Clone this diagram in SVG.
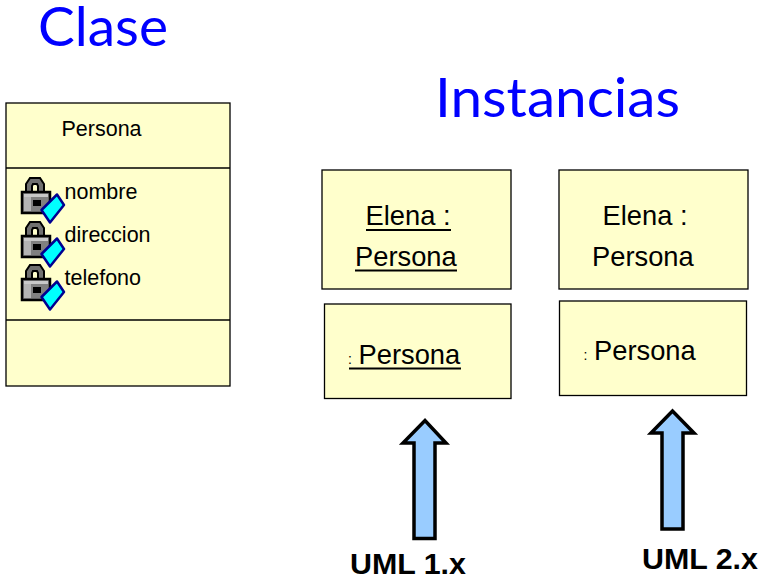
<svg xmlns="http://www.w3.org/2000/svg" width="764" height="579" viewBox="0 0 764 579">
<style>
text{font-family:"Liberation Sans",Arial,sans-serif;fill:#000}
.title{font-family:Lato,"Open Sans",sans-serif;font-size:55px;fill:#0000ff}
.box{fill:#ffffcc;stroke:#000;stroke-width:1.3}
.small{font-size:21.500px}
.big{font-size:27.300px}
.colon{font-size:14px}
.uml{font-size:30.400px;font-weight:bold}
.ul{stroke:#000;stroke-width:1.8;fill:none}
.arrow{fill:#99ccff;stroke:#000;stroke-width:3.5}
</style>
<defs>
<g id="lock">
<path d="M26 193v-9l4-6h10l4 6v9h-6v-7l-1-2h-4l-1 2v7z" fill="#707070" stroke="#000" stroke-width="2"/>
<rect x="22" y="192" width="28" height="21" fill="#808080" stroke="#000" stroke-width="2.500"/>
<rect x="24" y="194" width="24" height="3" fill="#c8c8c8"/>
<rect x="24" y="197" width="7" height="14" fill="#b4b4b4"/>
<rect x="33" y="200" width="8" height="6" fill="#000"/>
<path d="M41.500 210L57 194.500L64 205L50 222.500Z" fill="#00ffff" stroke="#000090" stroke-width="2.500" stroke-linejoin="round"/>
</g>
</defs>
<g id="title-clase"><text class="title" x="38" y="46" textLength="130" lengthAdjust="spacingAndGlyphs">Clase</text></g>
<g id="title-instancias"><text class="title" x="435" y="117" textLength="245" lengthAdjust="spacingAndGlyphs">Instancias</text></g>
<g id="class-persona">
<rect class="box" x="6" y="103" width="224" height="283"/>
<line class="ul" style="stroke-width:1.3" x1="6" y1="168" x2="230" y2="168"/>
<line class="ul" style="stroke-width:1.3" x1="6" y1="320" x2="230" y2="320"/>
<text class="small" x="61.500" y="136">Persona</text>
<use href="#lock"/>
<use href="#lock" y="44"/>
<use href="#lock" y="87"/>
<text class="small" x="64.500" y="198.500">nombre</text>
<text class="small" x="64.500" y="241.500">direccion</text>
<text class="small" x="64.500" y="284.500">telefono</text>
</g>
<g id="instance-elena-1">
<rect class="box" x="322" y="170" width="189" height="119"/>
<text class="big" x="365.500" y="225">Elena :</text>
<line class="ul" x1="366" y1="230" x2="451" y2="230"/>
<text class="big" x="355" y="265.500">Persona</text>
<line class="ul" x1="355" y1="270.500" x2="457" y2="270.500"/>
</g>
<g id="instance-elena-2">
<rect class="box" x="559" y="170" width="189" height="119"/>
<text class="big" x="602.500" y="225">Elena :</text>
<text class="big" x="592" y="265.500">Persona</text>
</g>
<g id="instance-anon-1">
<rect class="box" x="324.500" y="304" width="186.500" height="94.500"/>
<text class="colon" x="348" y="364">:</text>
<text class="big" x="358.500" y="364">Persona</text>
<line class="ul" x1="349" y1="368.500" x2="461" y2="368.500"/>
</g>
<g id="instance-anon-2">
<rect class="box" x="559.500" y="301" width="187" height="94.500"/>
<text class="colon" x="583.500" y="360">:</text>
<text class="big" x="594" y="360">Persona</text>
</g>
<g id="connectors">
<path class="arrow" d="M414 538.500V443H403L425 420.500L446 443H435V538.500Z"/>
<path class="arrow" d="M662 529V433H651L672.500 411L694 433H683V529Z"/>
</g>
<g id="label-uml1"><text class="uml" x="350" y="574">UML 1.x</text></g>
<g id="label-uml2"><text class="uml" x="642" y="569">UML 2.x</text></g>
</svg>
